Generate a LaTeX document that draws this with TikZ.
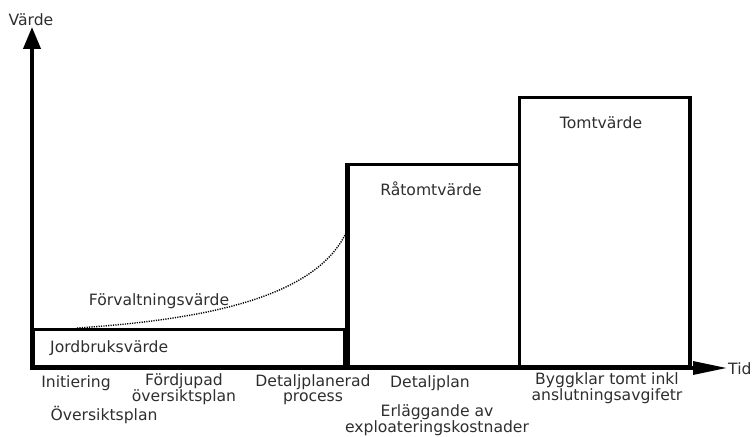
\documentclass[tikz,border=0pt]{standalone}
\usepackage{fontspec}
\setmainfont{DejaVu Sans}
\usetikzlibrary{arrows.meta,calc}
\definecolor{txtgray}{HTML}{2E2E2E}
\begin{document}
\begin{tikzpicture}[x=1pt,y=-1pt,
  txt/.style={text=txtgray, inner sep=0pt, align=center, font=\fontsize{15.6}{15}\selectfont},
  box/.style={draw, line width=2.6pt, inner sep=0pt, anchor=south west},
  axis/.style={line width=4pt},
  dotcurve/.style={line width=1.4pt, dash pattern=on 1.2pt off 1.2pt}]
\useasboundingbox (0,0) rectangle (754,436);
% boxes
\node[box, minimum width=311pt, minimum height=37pt] (jord) at (32,368) {};
\node[box, minimum width=171pt, minimum height=202pt] (ratomt) at (347,368) {};
\node[box, minimum width=170pt, minimum height=269pt] (tomt) at (518,368) {};
\draw[line width=3.8pt] (ratomt.south west) -- (ratomt.north west);
\draw[line width=3.4pt] (tomt.south east) -- (tomt.north east);
% axes
\coordinate (ybase) at (32,370);
\coordinate (ytop) at (32,27);
\coordinate (xbase) at (30,368);
\coordinate (xend) at (727,368);
\draw[axis, -{Triangle[length=22pt,width=17pt]}] (ybase) -- (ytop);
\draw[line width=3.2pt, -{Triangle[length=34pt,width=13pt]}] (xbase) -- (xend);
% dotted curve
\coordinate (fstart) at (77,328);
\coordinate (fend) at ($(ratomt.north west)!0.33!(ratomt.south west)$);
\draw[dotcurve] (fstart) .. controls (230,318) and (320,290) .. (fend);
% labels
\node[txt] (vardeT) at (31,20) {Värde};
\node[txt, anchor=west] (tidT) at (728,369) {Tid};
\node[txt, anchor=west] (jordT) at (50,348) {Jordbruksvärde};
\node[txt] (forvT) at (159,301) {Förvaltningsvärde};
\node[txt] (ratomtT) at (431,189) {Råtomtvärde};
\node[txt] (tomtT) at (601,123) {Tomtvärde};
\node[txt] (initT) at (76,383) {Initiering};
\node[txt] (oversT) at (104,415) {Översiktsplan};
\node[txt] (fordT) at (184,389.5) {Fördjupad\\översiktsplan};
\node[txt] (detprocT) at (313,389.5) {Detaljplanerad\\process};
\node[txt] (detT) at (430,383) {Detaljplan};
\node[txt] (erlT) at (437,420) {Erläggande av\\exploateringskostnader};
\node[txt] (byggT) at (607,388.5) {Byggklar tomt inkl\\anslutningsavgifetr};
\end{tikzpicture}
\end{document}
